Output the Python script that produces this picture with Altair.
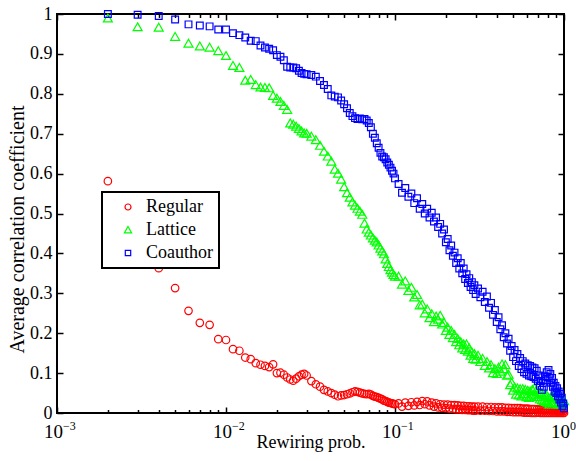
import altair as alt
import pandas as pd

FONT = "Liberation Serif"
W, H = 507, 399

# ---- x sampling grid (rewiring probability) ----
x_grid = [
    0.002, 0.003, 0.004, 0.005, 0.006, 0.007, 0.008, 0.009, 0.010, 0.011,
    0.012, 0.013, 0.014, 0.015, 0.016, 0.017, 0.018, 0.019, 0.020, 0.021,
    0.022, 0.023, 0.024, 0.025, 0.026, 0.027, 0.028, 0.029, 0.030,
    0.032, 0.034, 0.036, 0.038, 0.040, 0.042, 0.044, 0.046, 0.048, 0.050,
    0.052, 0.054, 0.056, 0.058, 0.060, 0.062, 0.064, 0.066, 0.068, 0.070,
    0.072, 0.074, 0.076, 0.078, 0.080, 0.082, 0.084, 0.086, 0.088, 0.090,
    0.092, 0.094, 0.096, 0.098, 0.100,
    0.105, 0.110, 0.115, 0.120, 0.125, 0.130, 0.135, 0.140, 0.145, 0.150,
    0.155, 0.160, 0.165, 0.170, 0.175, 0.180, 0.185, 0.190, 0.195, 0.200,
    0.205, 0.210, 0.215, 0.220, 0.225, 0.230, 0.235, 0.240, 0.245, 0.250,
    0.255, 0.260, 0.265, 0.270, 0.275, 0.280, 0.285, 0.290, 0.295, 0.300,
    0.31, 0.32, 0.33, 0.34, 0.35, 0.36, 0.37, 0.38, 0.39, 0.40,
    0.41, 0.42, 0.43, 0.44, 0.45, 0.46, 0.47, 0.48, 0.49, 0.50,
    0.51, 0.52, 0.53, 0.54, 0.55, 0.56, 0.57, 0.58, 0.59, 0.60,
    0.61, 0.62, 0.63, 0.64, 0.65, 0.66, 0.67, 0.68, 0.69, 0.70,
    0.71, 0.72, 0.73, 0.74, 0.75, 0.76, 0.77, 0.78, 0.79, 0.80,
    0.81, 0.82, 0.83, 0.84, 0.85, 0.86, 0.87, 0.88, 0.89, 0.90,
    0.91, 0.92, 0.93, 0.94, 0.95, 0.96, 0.97, 0.98, 0.99, 1.00,
]

regular = [
    0.581, 0.450, 0.363, 0.313, 0.256, 0.226, 0.221, 0.185, 0.183, 0.160,
    0.156, 0.139, 0.135, 0.125, 0.121, 0.118, 0.115, 0.122, 0.100, 0.101,
    0.096, 0.089, 0.084, 0.081, 0.086, 0.092, 0.096, 0.098, 0.094,
    0.080, 0.072, 0.066, 0.058, 0.054, 0.050, 0.046, 0.042, 0.044, 0.045,
    0.047, 0.049, 0.052, 0.054, 0.053, 0.051, 0.049, 0.048, 0.047, 0.048,
    0.046, 0.043, 0.041, 0.040, 0.038, 0.036, 0.034, 0.031, 0.030, 0.028,
    0.026, 0.025, 0.024, 0.023, 0.022,
    0.024, 0.016, 0.026, 0.018, 0.027, 0.019, 0.028, 0.020, 0.030, 0.022,
    0.029, 0.019, 0.026, 0.016, 0.024, 0.014, 0.022, 0.013, 0.021, 0.012,
    0.021, 0.011, 0.020, 0.010, 0.020, 0.009, 0.019, 0.009, 0.018, 0.008,
    0.018, 0.008, 0.017, 0.007, 0.017, 0.007, 0.016, 0.006, 0.016, 0.006,
    0.016, 0.006, 0.016, 0.006, 0.015, 0.005, 0.015, 0.005, 0.014, 0.004,
    0.014, 0.004, 0.014, 0.004, 0.013, 0.003, 0.013, 0.003, 0.012, 0.002,
    0.012, 0.002, 0.012, 0.002, 0.012, 0.002, 0.011, 0.001, 0.011, 0.001,
    0.011, 0.001, 0.010, 0.000, 0.010, 0.000, 0.010, 0.000, 0.009, 0.001,
    0.009, 0.000, 0.009, 0.000, 0.008, 0.000, 0.008, 0.000, 0.008, 0.000,
    0.008, 0.000, 0.007, 0.000, 0.007, 0.000, 0.007, 0.000, 0.007, 0.000,
    0.006, 0.000, 0.006, 0.000, 0.005, 0.000, 0.005, 0.000, 0.004, 0.000,
]

lattice = [
    0.989, 0.967, 0.966, 0.943, 0.926, 0.919, 0.916, 0.907, 0.895, 0.870,
    0.865, 0.833, 0.835, 0.822, 0.816, 0.815, 0.814, 0.795, 0.788, 0.780,
    0.770, 0.760, 0.726, 0.723, 0.718, 0.712, 0.706, 0.701, 0.700,
    0.693, 0.684, 0.670, 0.655, 0.643, 0.630, 0.610, 0.600, 0.585, 0.566,
    0.551, 0.540, 0.528, 0.520, 0.512, 0.505, 0.497, 0.475, 0.460, 0.452,
    0.445, 0.438, 0.432, 0.428, 0.420, 0.412, 0.405, 0.398, 0.385, 0.374,
    0.366, 0.358, 0.352, 0.346, 0.342,
    0.342, 0.322, 0.330, 0.306, 0.314, 0.290, 0.296, 0.270, 0.272, 0.250,
    0.260, 0.238, 0.248, 0.228, 0.242, 0.234, 0.244, 0.222, 0.226, 0.206,
    0.214, 0.196, 0.206, 0.188, 0.196, 0.178, 0.186, 0.170, 0.178, 0.162,
    0.172, 0.158, 0.172, 0.154, 0.162, 0.144, 0.152, 0.136, 0.148, 0.134,
    0.144, 0.128, 0.136, 0.118, 0.128, 0.112, 0.120, 0.100, 0.110, 0.098,
    0.114, 0.104, 0.122, 0.110, 0.120, 0.094, 0.096, 0.070, 0.076, 0.056,
    0.064, 0.046, 0.062, 0.044, 0.060, 0.042, 0.060, 0.048, 0.058, 0.040,
    0.056, 0.038, 0.054, 0.042, 0.058, 0.046, 0.062, 0.046, 0.058, 0.040,
    0.052, 0.034, 0.050, 0.032, 0.044, 0.030, 0.044, 0.028, 0.044, 0.026,
    0.038, 0.022, 0.038, 0.026, 0.042, 0.026, 0.038, 0.026, 0.042, 0.026,
    0.038, 0.022, 0.034, 0.022, 0.038, 0.022, 0.034, 0.022, 0.032, 0.030,
]

coauthor = [
    1.000, 0.998, 0.995, 0.986, 0.974, 0.971, 0.969, 0.961, 0.961, 0.952,
    0.947, 0.941, 0.933, 0.932, 0.921, 0.916, 0.913, 0.909, 0.897, 0.893,
    0.884, 0.868, 0.866, 0.866, 0.864, 0.858, 0.852, 0.850, 0.849,
    0.847, 0.843, 0.832, 0.822, 0.812, 0.796, 0.793, 0.791, 0.783, 0.774,
    0.764, 0.752, 0.744, 0.739, 0.737, 0.738, 0.736, 0.737, 0.733, 0.727,
    0.716, 0.700, 0.690, 0.676, 0.665, 0.652, 0.643, 0.641, 0.636, 0.628,
    0.622, 0.615, 0.607, 0.600, 0.588,
    0.574, 0.552, 0.564, 0.542, 0.550, 0.526, 0.538, 0.512, 0.524, 0.500,
    0.512, 0.490, 0.502, 0.480, 0.490, 0.466, 0.474, 0.450, 0.460, 0.428,
    0.436, 0.408, 0.420, 0.394, 0.402, 0.376, 0.388, 0.362, 0.376, 0.350,
    0.362, 0.336, 0.348, 0.326, 0.338, 0.316, 0.328, 0.308, 0.320, 0.298,
    0.312, 0.290, 0.304, 0.278, 0.292, 0.264, 0.276, 0.246, 0.258, 0.228,
    0.240, 0.210, 0.220, 0.190, 0.200, 0.174, 0.186, 0.156, 0.168, 0.140,
    0.158, 0.130, 0.148, 0.118, 0.138, 0.110, 0.130, 0.102, 0.124, 0.098,
    0.120, 0.094, 0.118, 0.092, 0.114, 0.090, 0.112, 0.086, 0.106, 0.080,
    0.094, 0.068, 0.080, 0.058, 0.076, 0.066, 0.092, 0.082, 0.102, 0.090,
    0.108, 0.088, 0.098, 0.076, 0.088, 0.066, 0.076, 0.054, 0.068, 0.050,
    0.062, 0.042, 0.054, 0.034, 0.048, 0.026, 0.038, 0.018, 0.024, 0.012,
]

series_names = ["Regular", "Lattice", "Coauthor"]
series_colors = ["#ff0000", "#00ff00", "#0000ff"]
# circle, a slightly enlarged up-triangle, a slightly reduced square
series_shapes = [
    "circle",
    "M0,-1.15L1.2,0.95L-1.2,0.95Z",
    "M-0.9,-0.9L0.9,-0.9L0.9,0.9L-0.9,0.9Z",
]

y_ticks = [0, 0.1, 0.2, 0.3, 0.4, 0.5, 0.6, 0.7, 0.8, 0.9, 1]
x_ticks = [
    0.001, 0.002, 0.003, 0.004, 0.005, 0.006, 0.007, 0.008, 0.009,
    0.01, 0.02, 0.03, 0.04, 0.05, 0.06, 0.07, 0.08, 0.09,
    0.1, 0.2, 0.3, 0.4, 0.5, 0.6, 0.7, 0.8, 0.9, 1,
]
x_major = [0.001, 0.01, 0.1, 1]
x_base = ["10", "10", "10", "10"]
x_exponents = ["\u22123", "\u22122", "\u22121", "0"]

assert len(x_grid) == len(regular) == len(lattice) == len(coauthor)

rows = []
for name, ys in zip(series_names, [regular, lattice, coauthor]):
    for xv, yv in zip(x_grid, ys):
        rows.append({"p": xv, "c": yv, "series": name})
df = pd.DataFrame(rows)
lab = pd.DataFrame({"p": x_major, "base": x_base, "exp": x_exponents})

xscale = alt.Scale(type="log", domain=[0.001, 1], nice=False)
yscale = alt.Scale(domain=[0, 1], nice=False, zero=False)

legend = alt.Legend(
    title=None, orient="none", legendX=45, legendY=178,
    fillColor="white", strokeColor="black", padding=6,
    symbolOffset=11, labelOffset=9, rowPadding=5,
    labelFont=FONT, labelFontSize=18, labelColor="black",
    symbolStrokeWidth=1.2, symbolSize=36, zindex=1,
)

points = alt.Chart(df).mark_point(filled=False, strokeWidth=1.2, opacity=1, size=56).encode(
    x=alt.X("p:Q", scale=xscale, axis=alt.Axis(
        orient="bottom", ticks=False, labels=False, domain=False, grid=False,
        title="Rewiring prob.", titleFont=FONT, titleFontSize=18, titleY=34,
        titleBaseline="alphabetic")),
    y=alt.Y("c:Q", scale=yscale, axis=alt.Axis(
        orient="left", values=y_ticks, ticks=False, domain=False, grid=False,
        labelExpr="format(datum.value, '.1~f')", labelFont=FONT, labelFontSize=18,
        labelPadding=5, title="Average correlation coefficient", titleFont=FONT,
        titleFontSize=20, titleX=-34, titleY=215, titleAngle=270,
        titleBaseline="alphabetic", titleAlign="center")),
    color=alt.Color("series:N", scale=alt.Scale(domain=series_names, range=series_colors), legend=legend),
    shape=alt.Shape("series:N", scale=alt.Scale(domain=series_names, range=series_shapes), legend=legend),
)

major_test = "datum.value == 0.001 || datum.value == 0.01 || datum.value == 0.1 || datum.value == 1"
xtick_size = {"condition": {"test": major_test, "value": 6}, "value": 3.5}

ticks_a = alt.Chart(df).mark_point(opacity=0).encode(
    x=alt.X("p:Q", scale=xscale, axis=alt.Axis(
        orient="top", offset=-H, values=x_ticks, labels=False, domain=False,
        grid=False, title=None, tickColor="black", tickWidth=1.5, tickSize=xtick_size)),
    y=alt.Y("c:Q", scale=yscale, axis=alt.Axis(
        orient="right", offset=-W, values=y_ticks, labels=False, domain=False,
        grid=False, title=None, tickColor="black", tickWidth=1.5, tickSize=6)),
)

ticks_b = alt.Chart(df).mark_point(opacity=0).encode(
    x=alt.X("p:Q", scale=xscale, axis=alt.Axis(
        orient="bottom", offset=-H, values=x_ticks, labels=False, domain=False,
        grid=False, title=None, tickColor="black", tickWidth=1.5, tickSize=xtick_size)),
    y=alt.Y("c:Q", scale=yscale, axis=alt.Axis(
        orient="left", offset=-W, values=y_ticks, labels=False, domain=False,
        grid=False, title=None, tickColor="black", tickWidth=1.5, tickSize=6)),
)

base_text = alt.Chart(lab).mark_text(
    align="right", baseline="alphabetic", dx=6, fontSize=19, font=FONT, color="black"
).encode(x=alt.X("p:Q", scale=xscale, axis=None), y=alt.value(H + 25), text="base:N")

exp_text = alt.Chart(lab).mark_text(
    align="left", baseline="alphabetic", dx=6, fontSize=12, font=FONT, color="black"
).encode(x=alt.X("p:Q", scale=xscale, axis=None), y=alt.value(H + 17), text="exp:N")

chart = alt.layer(points, ticks_a, ticks_b, base_text, exp_text).resolve_axis(
    x="independent", y="independent"
).properties(
    width=W, height=H,
    autosize=alt.AutoSizeParams(type="none"),
    padding={"left": 57, "top": 14, "right": 12, "bottom": 48},
    background="white",
).configure_view(
    stroke="black", strokeWidth=2
).configure_axis(
    labelFont=FONT, titleFont=FONT, labelColor="black", titleColor="black",
    titleFontWeight="normal", tickColor="black"
).configure_legend(
    strokeWidth=2
)

chart.save("out.html", embed_options={"renderer": "svg", "actions": False})
